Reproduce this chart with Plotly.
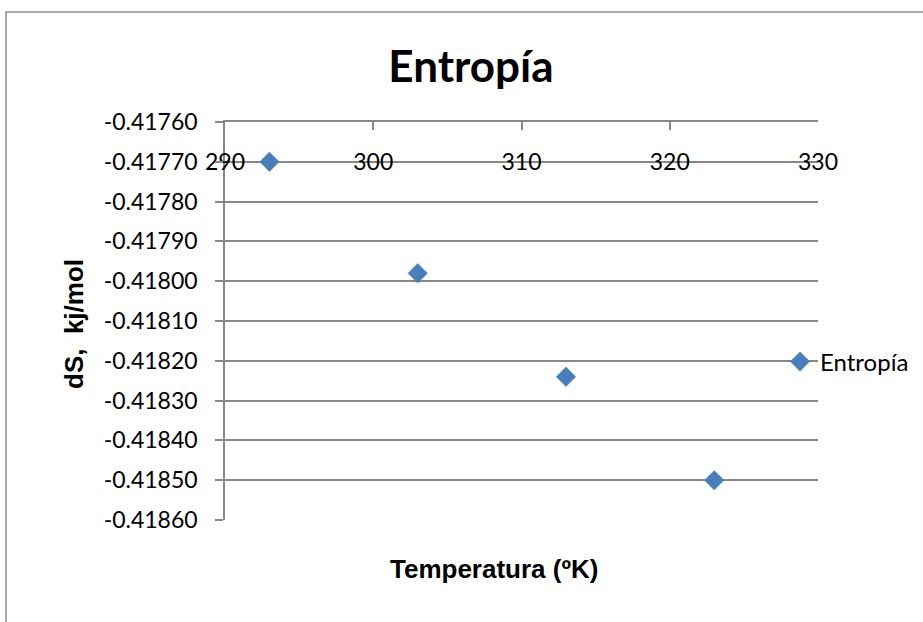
import plotly.graph_objects as go

# Entropy change vs temperature
temperatura = [293, 303, 313, 323]
entropia = [-0.41770, -0.41798, -0.41824, -0.41850]
serie = "Entropía"

x_ticks = [290, 300, 310, 320, 330]
y_ticks = [-0.41860, -0.41850, -0.41840, -0.41830, -0.41820, -0.41810,
           -0.41800, -0.41790, -0.41780, -0.41770, -0.41760]
y_labels = ["%.5f" % v for v in y_ticks]  # plain hyphen minus, as in Excel

W, H = 923, 622
ML, MR, MT, MB = 225, 105, 122, 102
PW, PH = W - ML - MR, H - MT - MB

GRID = "#878787"
BLUE = "#4A7EBB"
TICK_FONT = dict(family="Lato, Calibri, sans-serif", size=23, color="#000000")
LEGEND_FONT = dict(family="Lato, Calibri, sans-serif", size=24, color="#000000")
LABEL_FONT = dict(family="Liberation Sans, Arial, sans-serif", size=26, color="#000000")


def px_to_paper_x(px):
    return (px - ML) / PW


def px_to_paper_y(py):
    return (H - MB - py) / PH


fig = go.Figure()
fig.add_trace(go.Scatter(
    x=temperatura, y=entropia, mode="markers", name=serie,
    marker=dict(symbol="diamond", size=15, color=BLUE,
                line=dict(color=BLUE, width=0.5)),
))

fig.update_layout(
    width=W, height=H,
    margin=dict(l=ML, r=MR, t=MT, b=MB, autoexpand=False),
    paper_bgcolor="white", plot_bgcolor="white",
    title=dict(text="<b>Entropía</b>", x=471 / W, xref="container",
               y=1 - 67 / H, yref="container", xanchor="center", yanchor="middle",
               font=dict(family="Lato, Calibri, sans-serif", size=44, color="#000000")),
    showlegend=True,
    legend=dict(x=px_to_paper_x(780), y=px_to_paper_y(362), xanchor="left", yanchor="middle",
                bgcolor="rgba(0,0,0,0)", font=LEGEND_FONT, itemwidth=30,
                borderwidth=0),
    xaxis=dict(
        range=[x_ticks[0], x_ticks[-1]], tickvals=x_ticks, ticktext=[str(t) for t in x_ticks],
        side="top", ticks="inside", ticklen=8, tickcolor=GRID, tickwidth=1.5,
        showline=True, linecolor=GRID, linewidth=1.5, showgrid=False, zeroline=False,
        ticklabelposition="inside", ticklabeloverflow="allow", ticklabelstandoff=26,
        tickfont=TICK_FONT,
    ),
    yaxis=dict(
        range=[y_ticks[0], y_ticks[-1]], tickvals=y_ticks, ticktext=y_labels,
        ticks="outside", ticklen=8, tickcolor=GRID, tickwidth=1.5,
        showline=True, linecolor=GRID, linewidth=1.5,
        showgrid=True, gridcolor=GRID, gridwidth=1.5, zeroline=False,
        tickfont=TICK_FONT, ticklabelstandoff=13,
    ),
    annotations=[
        dict(text="<b>Temperatura (ºK)</b>", x=px_to_paper_x(494), y=px_to_paper_y(569),
             xref="paper", yref="paper", showarrow=False, font=LABEL_FONT,
             xanchor="center", yanchor="middle"),
        dict(text="<b>dS,  kj/mol</b>", x=px_to_paper_x(74), y=px_to_paper_y(324),
             xref="paper", yref="paper", showarrow=False, font=LABEL_FONT, textangle=-90,
             xanchor="center", yanchor="middle"),
    ],
    shapes=[
        # chart frame
        dict(type="rect", xref="paper", yref="paper",
             x0=px_to_paper_x(6), x1=px_to_paper_x(W + 20),
             y0=px_to_paper_y(H + 20), y1=px_to_paper_y(12),
             line=dict(color="#8C8C8C", width=1.5), layer="below"),
    ],
)

fig.write_html("out.html")
